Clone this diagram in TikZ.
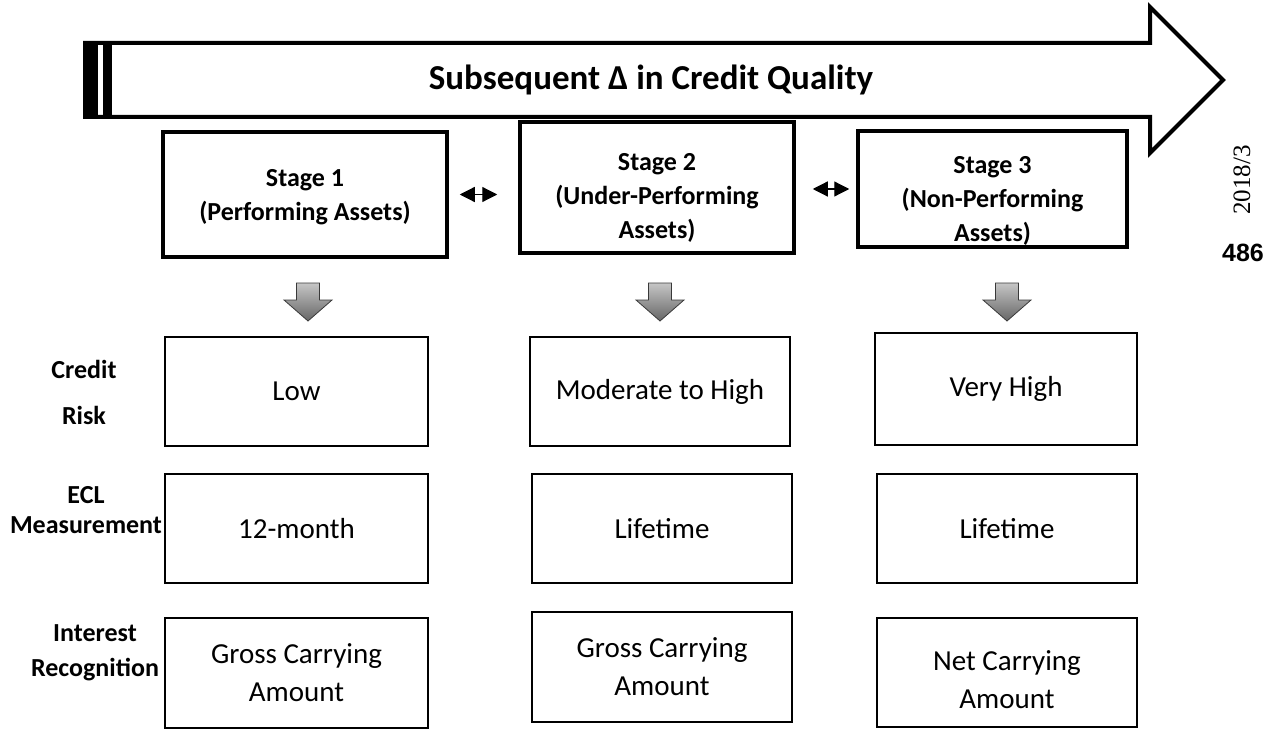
\documentclass[tikz,border=0pt]{standalone}
\usepackage{fontspec}
\setmainfont{Carlito}
\newfontfamily\volfont{Liberation Serif}
\newfontfamily\pagefont{Liberation Sans}
\usetikzlibrary{arrows.meta}

\begin{document}
\begin{tikzpicture}[x=1pt,y=-1pt,
  stagebox/.style={draw, line width=3.5pt, align=center, inner sep=0pt, font=\fontsize{26}{34}\selectfont\bfseries},
  infobox/.style={draw, line width=2.5pt, align=center, inner sep=0pt, font=\fontsize{29}{38}\selectfont},
  rowlabel/.style={align=center, font=\fontsize{26}{33}\selectfont\bfseries},
  downarrow/.style={top color=gray!45, bottom color=gray!80!black, draw=gray!45!black, line width=0.8pt},
  moveboth/.style={{Triangle[length=15pt,width=15pt]}-{Triangle[length=15pt,width=15pt]}, line width=1.2pt}
]
\useasboundingbox (0,0) rectangle (1272,730);

% big arrow on top
\draw[line width=4pt, line join=miter] (85,43) -- (1150,43) -- (1150,7) -- (1223,80) -- (1150,153) -- (1150,117) -- (85,117) -- cycle;
\fill (85,43) rectangle (98,117);
\fill (103,43) rectangle (112,117);
\node[font=\fontsize{35}{40}\selectfont\bfseries] (title) at (651,80) {Subsequent Δ in Credit Quality};

% page marks
\node[rotate=90, font=\volfont\fontsize{25}{25}\selectfont] (vol) at (1242,180) {2018/3};
\node[font=\pagefont\bfseries\fontsize{25}{25}\selectfont] (page) at (1243,253) {486};

% stages
\node[stagebox, minimum width=284pt, minimum height=125pt] (s1) at (305,194.5) {\rule{0pt}{23pt}Stage 1\\(Performing Assets)};
\node[stagebox, minimum width=274pt, minimum height=131pt] (s2) at (657,187.5) {\rule{0pt}{37pt}Stage 2\\(Under-Performing\\Assets)};
\node[stagebox, minimum width=269pt, minimum height=116pt] (s3) at (992.5,189) {\rule{0pt}{41pt}Stage 3\\(Non-Performing\\Assets)};
\draw[moveboth, shorten <=11pt, shorten >=21pt] (s1.east) -- (s1.east -| s2.west);
\draw[moveboth, shorten <=17pt, shorten >=7pt] (s2.east |- s3.west) -- (s3.west);

% gray arrows
\foreach \x in {308,660,1007}
  \shadedraw[downarrow] (\x-11.5,283) -- (\x+11.5,283) -- (\x+11.5,300) -- (\x+24,300) -- (\x,321) -- (\x-24,300) -- (\x-11.5,300) -- cycle;

% row labels
\node[rowlabel] (lcr) at (84,392) {Credit\\[13pt]Risk};
\node[rowlabel] (lecl) at (86,510) {ECL\\[-3pt]Measurement};
\node[rowlabel] (lir) at (95,653) {Interest\\[2pt]Recognition};

% credit risk
\node[infobox, minimum width=263pt, minimum height=109pt] (cr1) at (296.5,391.5) {Low};
\node[infobox, minimum width=260pt, minimum height=109pt] (cr2) at (660,391.5) {Moderate to High};
\node[infobox, minimum width=262pt, minimum height=112pt] (cr3) at (1006,389) {Very High};

% ECL measurement
\node[infobox, minimum width=263pt, minimum height=109pt] (ecl1) at (296.5,528.5) {12-month};
\node[infobox, minimum width=260pt, minimum height=109pt] (ecl2) at (662,528.5) {Lifetime};
\node[infobox, minimum width=260pt, minimum height=109pt] (ecl3) at (1007,528.5) {Lifetime};

% interest recognition
\node[infobox, minimum width=263pt, minimum height=110pt] (ir1) at (296.5,673) {Gross Carrying\\Amount};
\node[infobox, minimum width=260pt, minimum height=110pt] (ir2) at (662,667) {Gross Carrying\\Amount};
\node[infobox, minimum width=260pt, minimum height=109pt] (ir3) at (1007,672.5) {\rule{0pt}{35pt}Net Carrying\\Amount};
\end{tikzpicture}
\end{document}
